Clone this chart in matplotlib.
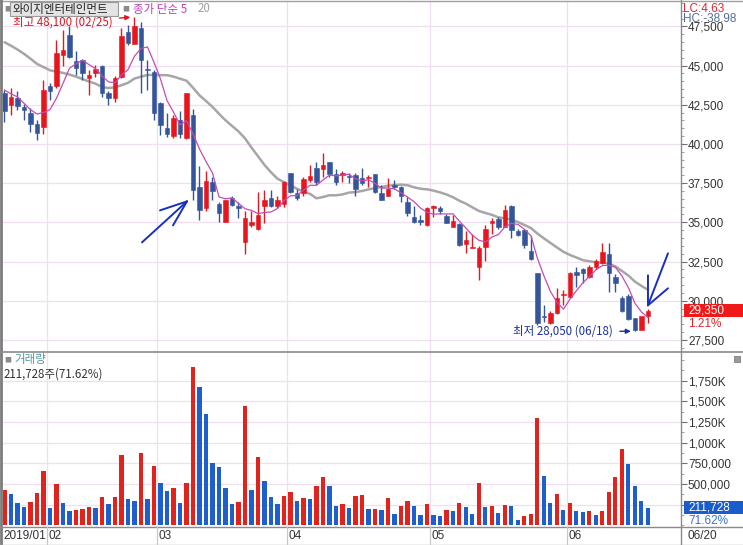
import numpy as np
import matplotlib
matplotlib.use("Agg")
import matplotlib.pyplot as plt
from matplotlib.patches import Rectangle
from matplotlib.lines import Line2D
from matplotlib.ticker import MultipleLocator, FixedLocator
from matplotlib.transforms import offset_copy

# ---------------- data ----------------
dates = (["01/%02d" % d for d in [23, 24, 25, 28, 29, 30, 31]] +
         ["02/%02d" % d for d in [1, 7, 8, 11, 12, 13, 14, 15, 18, 19, 20, 21, 22, 25, 26, 27, 28]] +
         ["03/%02d" % d for d in [4, 5, 6, 7, 8, 11, 12, 13, 14, 15, 18, 19, 20, 21, 22, 25, 26, 27, 28, 29]] +
         ["04/%02d" % d for d in [1, 2, 3, 4, 5, 8, 9, 10, 11, 12, 15, 16, 17, 18, 19, 22, 23, 24, 25, 26, 29, 30]] +
         ["05/%02d" % d for d in [2, 3, 7, 8, 9, 10, 13, 14, 15, 16, 17, 20, 21, 22, 23, 24, 27, 28, 29, 30, 31]] +
         ["06/%02d" % d for d in [3, 4, 5, 7, 10, 11, 12, 13, 14, 17, 18, 19, 20]])

opens = [43250, 42500, 42900, 42350, 42000, 41300, 41100, 43700, 43700, 45650,
         46950, 45300, 45350, 44200, 44500, 44950, 43250, 42900, 44300, 47150,
         46400, 47400, 44750, 44600, 42600, 41000, 40500, 41550, 40400, 41850,
         37250, 35900, 37600, 36150, 35000, 36550, 36050, 33750, 34800, 34600,
         36050, 36550, 36050, 36150, 38150, 36900, 36850, 37700, 38450, 38400,
         38850, 38100, 38000, 37950, 38000, 37800, 37800, 38100, 36900, 36700,
         37400, 37250, 36300, 35350, 35150, 34850, 35900, 35900, 35400, 34700,
         34900, 33600, 33350, 32150, 33450, 34950, 35200, 34700, 36050, 34450,
         34500, 33150, 31750, 29000, 28600, 29200, 30350, 30250, 31850, 32050,
         31500, 32150, 32400, 33000, 31500, 30150, 30300, 28900, 28150, 29050]
highs = [43450, 43550, 43400, 42550, 42300, 41550, 44100, 43900, 46650, 47250,
         47500, 45900, 45400, 44700, 45050, 45050, 43350, 44350, 47400, 47600,
         48100, 47800, 45350, 44700, 42650, 41950, 41850, 42100, 43250, 42200,
         38600, 38250, 37900, 36300, 36450, 36650, 36300, 35750, 35700, 36950,
         37050, 37050, 36650, 37650, 38150, 37150, 37900, 38650, 38850, 39400,
         38850, 38400, 38250, 38150, 38150, 38450, 38050, 38100, 37400, 37850,
         37700, 37300, 36600, 36050, 35450, 36000, 36100, 36050, 35550, 35450,
         34950, 34450, 34250, 33500, 34850, 35300, 35350, 36100, 36100, 34600,
         34550, 34100, 31750, 29700, 29350, 30800, 30700, 31800, 32150, 32100,
         32300, 32650, 33700, 33650, 31700, 30300, 30450, 28900, 28950, 29450]
lows = [41400, 41850, 42150, 41500, 40750, 40250, 40650, 42800, 43550, 44950,
        45500, 44400, 44050, 43100, 44300, 43000, 42500, 42650, 44200, 46300,
        46400, 43250, 43450, 41550, 40550, 40450, 40400, 40400, 40300, 36400,
        35150, 35700, 36400, 35000, 35000, 36050, 35250, 33000, 34700, 34500,
        34950, 36000, 35900, 36000, 36850, 36400, 36700, 37600, 37400, 37900,
        37900, 37400, 37600, 37500, 36650, 37400, 37250, 36850, 36400, 36650,
        37150, 36300, 35400, 34950, 34850, 34750, 35350, 35550, 34950, 34700,
        33500, 33050, 33350, 31350, 32550, 34250, 34600, 34700, 34000, 34100,
        33350, 32600, 28450, 28650, 28500, 29150, 29700, 30200, 30900, 31150,
        31450, 32050, 32350, 30550, 30550, 29250, 28750, 28050, 28100, 28600]
closes = [42100, 43000, 42400, 42150, 41300, 40700, 43450, 43350, 45800, 46000,
          45550, 44850, 44500, 44400, 44750, 43250, 42900, 44200, 46900, 46450,
          47550, 45350, 44700, 41950, 41200, 40650, 41650, 40650, 43250, 37050,
          35800, 37650, 37000, 35600, 36450, 36100, 35900, 35300, 35050, 35450,
          36450, 36050, 36400, 37600, 36950, 36550, 37750, 37950, 37600, 38650,
          38100, 37550, 38150, 37900, 37150, 37500, 37900, 36950, 36450, 37100,
          37250, 36650, 35600, 35000, 35050, 35900, 36050, 35700, 34950, 35100,
          33550, 33850, 33400, 33350, 34600, 35100, 34700, 35800, 34500, 34200,
          33550, 32650, 28550, 28950, 29200, 30150, 30450, 31750, 31650, 31750,
          32150, 32550, 33100, 31750, 31100, 29350, 28800, 28150, 29000, 29350]
# closes before the visible window (only used to seed the moving averages)
prior_closes = [47450, 47300, 47600, 47500, 47350, 47550, 47400,
                47600, 47500, 47700, 47450, 47650, 47550, 47500, 47500,
                44200, 43400, 44150, 43350]
volumes = [427000, 379000, 266000, 225000, 278000, 395000, 657000, 209000, 500000, 266000,
           177000, 181000, 197000, 221000, 209000, 339000, 258000, 340000, 851000, 315000,
           290000, 871000, 315000, 718000, 508000, 415000, 451000, 266000, 508000, 1919000,
           1677000, 1347000, 757000, 702000, 451000, 258000, 278000, 1444000, 427000, 830000,
           540000, 346000, 258000, 358000, 403000, 290000, 334000, 322000, 476000, 588000,
           476000, 234000, 258000, 209000, 351000, 363000, 197000, 202000, 185000, 327000,
           140000, 234000, 290000, 234000, 128000, 258000, 130000, 116000, 185000, 173000,
           266000, 225000, 133000, 508000, 218000, 234000, 145000, 246000, 234000, 64000,
           116000, 140000, 1295000, 597000, 266000, 379000, 185000, 266000, 173000, 161000,
           173000, 128000, 173000, 403000, 588000, 920000, 738000, 476000, 295620, 211728]

price_ticks = [27500, 30000, 32500, 35000, 37500, 40000, 42500, 45000, 47500]
vol_ticks = [250000, 500000, 750000, 1000000, 1250000, 1500000, 1750000]
vol_tick_labels = ["250,000", "500,000", "750,000", "1,000K", "1,250K", "1,500K", "1,750K"]

stock_name = "와이지엔터테인먼트"
high_idx, low_idx = 20, 97

# ---------------- style ----------------
RED = "#e5161e"
BLUE = "#34559b"
VRED = "#e0241d"
VBLUE = "#1f5ecd"
GRID = "#f0dff0"
FRAME = "#8c8c8c"
TXT = "#333333"
KFONT = ["Noto Sans CJK KR", "DejaVu Sans"]
NFONT = ["Liberation Sans", "DejaVu Sans"]
plt.rcParams["font.family"] = KFONT

W, H = 743, 545
fig = plt.figure(figsize=(W / 100, H / 100), dpi=100)
fig.patch.set_facecolor("white")


def fx(px):
    return px / W


def fy(py):
    return 1 - py / H


L, R = 3, 681
P_TOP, P_BOT = 1, 351
V_TOP, V_BOT = 353, 527
ax_p = fig.add_axes([fx(L), fy(P_BOT), (R - L) / W, (P_BOT - P_TOP) / H])
ax_v = fig.add_axes([fx(L), fy(V_BOT), (R - L) / W, (V_BOT - V_TOP) / H])

opens = np.array(opens, float)
highs = np.array(highs, float)
lows = np.array(lows, float)
closes = np.array(closes, float)
volumes = np.array(volumes, float)
n = len(closes)
x = np.arange(n)
XLIM = (-0.23, 104.08)

# month boundaries
month_first = [i for i in range(n) if i == 0 or dates[i][:2] != dates[i - 1][:2]]

for ax in (ax_p, ax_v):
    ax.set_xlim(*XLIM)
    for s in ax.spines.values():
        s.set_visible(False)
    ax.tick_params(axis="x", bottom=False, labelbottom=False)
    for i in month_first[1:]:
        ax.axvline(i - 0.5, color=GRID, lw=0.9, zorder=0)

# ---------------- price panel ----------------
ax_p.set_ylim(26790, 49120)
for t in price_ticks:
    ax_p.axhline(t, color=GRID, lw=0.9, zorder=0)

up = closes > opens
ccol = np.where(up, RED, BLUE)
ax_p.vlines(x, lows, highs, colors=ccol, lw=1.0, zorder=3)
body_bottom = np.minimum(opens, closes)
body_h = np.maximum(np.abs(closes - opens), 70)
ax_p.bar(x, body_h, bottom=body_bottom, width=0.66, color=ccol, edgecolor=ccol, lw=0.4, zorder=4)

allc = np.concatenate([prior_closes, closes])
ma5 = np.convolve(allc, np.ones(5) / 5, "valid")[-n:]
ma20 = np.convolve(allc, np.ones(20) / 20, "valid")[-n:]
ax_p.plot(x, ma20, color="#a6a6a6", lw=1.8, zorder=2, solid_capstyle="round")
ax_p.plot(x, ma5, color="#c24cb6", lw=0.9, zorder=5)

ax_p.yaxis.tick_right()
ax_p.set_yticks(price_ticks)
ax_p.set_yticklabels([f"{t:,}" for t in price_ticks])
ax_p.yaxis.set_minor_locator(MultipleLocator(500))
ax_p.tick_params(axis="y", which="major", direction="out", length=4, width=0.8,
                 color="#707070", pad=1, labelsize=8.5, labelcolor=TXT)
ax_p.tick_params(axis="y", which="minor", direction="out", length=2, width=0.6, color="#909090")
for lab in ax_p.get_yticklabels():
    lab.set_fontfamily(NFONT)

# high / low annotations
ax_p.annotate(f"최고 {int(highs[high_idx]):,} ({dates[high_idx]})", xy=(high_idx, highs[high_idx]),
              xytext=(-22, -5), textcoords="offset pixels", ha="right", va="center",
              fontsize=8.3, color="#e0161e", family=KFONT,
              arrowprops=dict(arrowstyle="-|>", color="#e0161e", lw=1.0, shrinkA=3, shrinkB=3,
                              mutation_scale=7))
ax_p.annotate(f"최저 {int(lows[low_idx]):,} ({dates[low_idx]})", xy=(low_idx, lows[low_idx]),
              xytext=(-22, 0), textcoords="offset pixels", ha="right", va="center",
              fontsize=8.3, color="#1c2f9a", family=KFONT,
              arrowprops=dict(arrowstyle="-|>", color="#1c2f9a", lw=1.0, shrinkA=3, shrinkB=3,
                              mutation_scale=7))

# hand-drawn blue arrows (anchored to candles)
NAVY = "#1a2fc0"
tip1 = offset_copy(ax_p.transData, fig=fig, x=-6, y=-1, units="dots")
for dx, dy in [(-45, -41), (-27, -9), (-14, -24)]:
    ax_p.annotate("", xy=(29, lows[29]), xycoords=tip1, xytext=(dx, dy), textcoords="offset pixels",
                  arrowprops=dict(arrowstyle="-", color=NAVY, lw=1.4, shrinkA=0, shrinkB=0))
tip2 = offset_copy(ax_p.transData, fig=fig, x=0, y=4, units="dots")
for dx, dy in [(20, 52), (0, 30), (20, 17)]:
    ax_p.annotate("", xy=(n - 1, highs[-1]), xycoords=tip2, xytext=(dx, dy), textcoords="offset pixels",
                  arrowprops=dict(arrowstyle="-", color=NAVY, lw=1.4, shrinkA=0, shrinkB=0))

# ---------------- volume panel ----------------
ax_v.set_ylim(-20600, 2085000)
for t in vol_ticks:
    ax_v.axhline(t, color=GRID, lw=0.9, zorder=0)
vcol = [VRED] + [VRED if volumes[i] >= volumes[i - 1] else VBLUE for i in range(1, n)]
ax_v.bar(x, volumes, width=0.62, color=vcol, zorder=3)
ax_v.yaxis.tick_right()
ax_v.yaxis.set_major_locator(FixedLocator(vol_ticks))
ax_v.set_yticklabels(vol_tick_labels)
ax_v.yaxis.set_minor_locator(MultipleLocator(125000))
ax_v.tick_params(axis="y", which="major", direction="out", length=4, width=0.8,
                 color="#707070", pad=1, labelsize=8.5, labelcolor=TXT)
ax_v.tick_params(axis="y", which="minor", direction="out", length=2, width=0.6, color="#909090")
for lab in ax_v.get_yticklabels():
    lab.set_fontfamily(NFONT)

# ---------------- frame lines ----------------
def fline(x0, y0, x1, y1, color=FRAME, lw=1.0):
    fig.add_artist(Line2D([fx(x0), fx(x1)], [fy(y0), fy(y1)], color=color, lw=lw, zorder=10))

fline(0, 0.5, W, 0.5, "#a0a0a0", 1.0)
fline(1, 0, 1, H, "#7c7c7c", 2.0)
fline(0, 352, W, 352, "#8a8a8a", 1.2)
fline(0, 527, W, 527, "#8a8a8a", 1.0)
fline(0, 544.5, W, 544.5, "#b0b0b0", 1.0)
fline(681, 0, 681, H, "#8a8a8a", 1.0)

# month labels in the bottom strip
for k, i in enumerate(month_first):
    if k == 0:
        fig.text(fx(3), fy(536), "2019/" + dates[i][:2], fontsize=8.5, color=TXT,
                 family=NFONT, va="center", ha="left")
    else:
        xp = ax_p.transData.transform((i - 0.5, 0))[0]
        xpx = fig.transFigure.inverted().transform((xp, 0))[0] * W
        fline(xpx, 527, xpx, 545, "#c8c8c8", 0.9)
        fig.text(fx(xpx + 1.5), fy(536), dates[i][:2], fontsize=8.5, color=TXT,
                 family=NFONT, va="center", ha="left")
fig.text(fx(688), fy(536), dates[-1], fontsize=8.5, color=TXT, family=NFONT, va="center", ha="left")

# ---------------- headers ----------------
fig.text(fx(4), fy(9), "■", fontsize=5, color="#8a8a8a", va="center", ha="left", family=KFONT)
fig.add_artist(Rectangle((fx(10), fy(16)), 108 / W, 14 / H, transform=fig.transFigure,
                         fc="#e4e4e4", ec="#9a9a9a", lw=0.8, zorder=11))
fig.text(fx(13), fy(9), stock_name, fontsize=8.3, color="#222222", va="center", ha="left",
         family=KFONT, zorder=12)
fig.text(fx(122), fy(9), "■", fontsize=5, color="#8a8a8a", va="center", ha="left", family=KFONT)
fig.text(fx(133), fy(9), "종가 단순 5", fontsize=8.3, color="#c040b0", va="center", ha="left", family=KFONT)
fig.text(fx(198), fy(9), "20", fontsize=8.3, color="#a0a0a0", va="center", ha="left", family=KFONT)

lc = (closes[-1] / lows[low_idx] - 1) * 100
hc = (closes[-1] / highs[high_idx] - 1) * 100
fig.text(fx(683), fy(9), f"LC:{lc:.2f}", fontsize=8.5, color="#d42a32", va="center", ha="left", family=NFONT)
fig.text(fx(683), fy(19), f"HC:{hc:.2f}", fontsize=8.5, color="#4f6e9c", va="center", ha="left", family=NFONT,
         zorder=12)

fig.text(fx(4), fy(360), "■", fontsize=5, color="#8a8a8a", va="center", ha="left", family=KFONT)
fig.text(fx(14), fy(360), "거래량", fontsize=8.3, color="#4a9ca0", va="center", ha="left", family=KFONT)
vchg = volumes[-1] / volumes[-2] * 100
fig.text(fx(4), fy(374), f"{int(volumes[-1]):,}주({vchg:.2f}%)", fontsize=8.3, color=TXT,
         va="center", ha="left", family=KFONT)
fig.add_artist(Rectangle((fx(734), fy(362)), 6 / W, 6 / H, transform=fig.transFigure,
                         fc="#9a9a9a", ec="#707070", lw=0.5, zorder=11))


# ---------------- last value tags ----------------
def data_to_py(ax, val):
    yd = ax.transData.transform((0, val))[1]
    return (1 - fig.transFigure.inverted().transform((0, yd))[1]) * H

py = data_to_py(ax_p, closes[-1])
fig.add_artist(Rectangle((fx(684), fy(py + 6.5)), 59 / W, 13 / H, transform=fig.transFigure,
                         fc="#f01818", ec="none", zorder=11))
fig.text(fx(688), fy(py), f"{int(closes[-1]):,}", fontsize=8.5, color="white", va="center",
         ha="left", family=NFONT, zorder=12)
pchg = (closes[-1] / closes[-2] - 1) * 100
fig.text(fx(688), fy(py + 13), f"{pchg:.2f}%", fontsize=8.5, color="#e0242a", va="center",
         ha="left", family=NFONT, zorder=12)

pv = data_to_py(ax_v, volumes[-1])
fig.add_artist(Rectangle((fx(684), fy(pv + 6.5)), 59 / W, 13 / H, transform=fig.transFigure,
                         fc="#1a5ccc", ec="none", zorder=11))
fig.text(fx(688), fy(pv), f"{int(volumes[-1]):,}", fontsize=8.5, color="white", va="center",
         ha="left", family=NFONT, zorder=12)
fig.text(fx(688), fy(pv + 13), f"{vchg:.2f}%", fontsize=8.5, color="#3d6fd0", va="center",
         ha="left", family=NFONT, zorder=12)

fig.savefig("out.png", dpi=100, facecolor="white")
